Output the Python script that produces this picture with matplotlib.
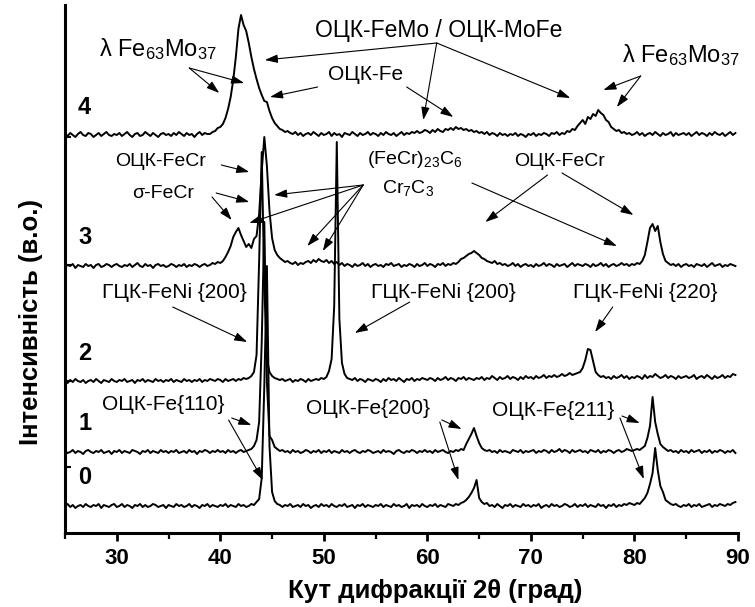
import numpy as np
import matplotlib.pyplot as plt

plt.rcParams['font.family'] = ['Liberation Sans', 'DejaVu Sans']
plt.rcParams['mathtext.fontset'] = 'custom'
plt.rcParams['mathtext.rm'] = 'Liberation Sans'
plt.rcParams['mathtext.it'] = 'Liberation Sans:italic'

# 2theta grid of the scans (step 0.25 deg)
two_theta = np.arange(260) * 0.25 + 25.0

# intensities (a.u.) of each pattern above its own baseline
trace0 = [0, 2, -1, 1, -2, 0, 1, -1, 2, 0, -1, 1, 0, 2, -2, 1, 0, -1, 1, 2,
          -1, 0, 2, -1, 1, 0, -2, 1, 0, 2, -1, 1, -1, 0, 2, 1, -1, 0, 1, -2,
          1, 0, -1, 2, 0, 1, -1, 0, 2, -1, 1, 0, -2, 1, 0, 2, -1, 1, 0, -1,
          1, 0, 2, -1, 1, 0, -1, 2, 0, 1, -1, 0, 2, 1, 4, 7, 28, 120, 240, 60,
          14, 5, 2, 1, -1, 1, 0, 2, -1, 0, 1, -1, 2, 0, 1, -2, 0, 1, -1, 2,
          0, 1, -1, 2, 0, -1, 1, 0, 2, -1, 0, 1, -2, 1, 0, 2, -1, 1, 0, -1,
          1, 0, 2, -1, 1, 0, -1, 2, 0, 1, -1, 0, 2, -2, 1, 0, 1, -1, 2, 0,
          -1, 1, 0, 2, -1, 1, 0, -1, 2, 1, 0, 2, 1, 3, 4, 6, 9, 13, 18, 26,
          8, 4, 2, 3, 0, 1, -1, 2, 0, -2, 1, 0, 2, -1, 1, 0, -1, 2, 0, 1,
          -1, 1, 0, 2, -2, 0, 1, -1, 2, 0, 1, -1, 0, 2, 1, -1, 0, 2, -1, 1,
          0, 2, -1, 1, 0, -1, 2, 0, 1, -2, 1, 0, 2, -1, 1, 0, 2, 1, 3, 2,
          1, 3, 2, 5, 8, 13, 22, 33, 58, 36, 20, 14, 6, 4, 2, 1, 2, 0, -1, 1,
          0, 2, -1, 1, 0, 2, -1, 0, 1, 2, -1, 1, 0, 2, 1, 0, 2, 1, 3, 4]
trace1 = [1, -1, 0, 2, -1, 1, 0, -2, 1, 2, 0, -1, 1, 0, 2, -1, 0, 1, -2, 1,
          0, 2, -1, 1, 0, -1, 2, 1, 0, -2, 1, 0, 2, -1, 1, 0, -1, 2, 0, 1,
          -1, 1, 0, 2, -1, 0, 1, -1, 2, 0, 1, -2, 1, 0, 2, 1, -1, 1, 0, 2,
          0, 1, -1, 2, 0, 1, -1, 1, 2, 0, 1, 2, 3, 6, 12, 30, 110, 230, 70, 16,
          12, 5, 3, 1, 2, 0, 1, -1, 2, 0, 1, -1, 0, 2, 1, -1, 1, 0, 2, -1,
          1, 0, 2, -1, 1, 0, -1, 2, 0, 1, -1, 1, 2, 0, -1, 1, 0, 2, 1, -1,
          0, 1, -1, 2, 0, 1, 0, -2, 1, 2, 0, -1, 1, 0, 2, 1, -1, 1, 0, 2,
          0, 1, -1, 2, 0, 1, 2, 0, -1, 1, 0, 2, 1, 3, 2, 8, 13, 18, 24, 16,
          9, 4, 2, 1, 2, 0, 1, -1, 2, 0, 1, 0, -1, 2, 1, 0, 2, -1, 1, 0,
          1, 2, -1, 1, 0, 2, 1, -1, 2, 0, 1, 3, 0, 2, 1, -1, 2, 0, 1, 2,
          0, 1, -1, 2, 1, 0, 2, -1, 1, 0, 2, 1, -1, 1, 2, 0, 1, 3, 2, 1,
          2, 3, 2, 4, 6, 14, 26, 55, 30, 18, 8, 5, 3, 1, 2, 0, 1, -1, 2, 0,
          1, -1, 2, 0, 1, 2, -1, 1, 0, 2, -1, 1, 0, 2, 1, -1, 1, 0, 2, -1]
trace2 = [0, -2, 1, -1, 2, 0, -1, 1, -2, 0, 1, -1, 2, 0, -2, 1, 0, -1, 2, 0,
          -1, 1, 0, 2, -1, 0, 1, -2, 1, 0, 2, -1, 1, 0, -1, 2, 0, 1, -1, 1,
          0, 2, -1, 1, 0, -1, 2, 0, 1, -1, 1, 0, 2, -1, 1, 0, 2, 1, 0, 2,
          1, -1, 2, 0, 1, 2, 0, 2, 1, 3, 2, 3, 5, 9, 26, 120, 229, 95, 22, 9,
          5, 3, 2, 1, 2, 0, 1, 2, -1, 1, 0, 2, 1, -1, 2, 0, 1, 2, 1, 3,
          2, 4, 10, 22, 75, 239, 62, 18, 7, 3, 2, 1, 3, 0, 2, 1, -1, 2, 1, 0,
          2, 1, -1, 2, 0, 3, 1, 2, 0, 3, 1, -1, 2, 1, 3, 0, 2, 1, 3, 2,
          1, 3, 2, 0, 3, 1, 2, 4, 1, 3, 2, 0, 3, 2, 4, 1, 3, 2, 1, 3,
          2, 4, 1, 3, 2, 5, 3, 1, 4, 2, 3, 5, 2, 4, 3, 1, 4, 2, 5, 3,
          4, 2, 5, 3, 4, 6, 3, 5, 4, 6, 4, 5, 7, 5, 6, 8, 6, 7, 8, 9,
          13, 21, 32, 31, 20, 9, 6, 4, 5, 3, 4, 2, 5, 3, 4, 6, 3, 5, 2, 4,
          3, 5, 4, 2, 6, 3, 5, 4, 7, 5, 3, 4, 6, 3, 5, 4, 2, 5, 3, 4,
          5, 3, 4, 6, 2, 4, 5, 3, 6, 4, 2, 5, 3, 4, 6, 3, 5, 4, 7, 6]
trace3 = [-1, 1, 0, 2, -2, 1, 0, -1, 2, 0, 1, -2, 1, 2, -1, 0, 2, 1, -1, 1,
          2, 0, -1, 1, 0, 2, -1, 1, 3, 0, -1, 2, 0, 1, -2, 1, 2, 0, 1, -1,
          0, 2, 1, -1, 1, 0, 2, -1, 1, 0, 2, 1, -1, 1, 2, 0, 1, 3, 2, 4,
          3, 5, 9, 14, 20, 29, 34, 38, 31, 25, 19, 22, 18, 27, 30, 52, 95, 129, 100, 55,
          28, 16, 11, 8, 6, 4, 5, 3, 2, 4, 1, 3, 2, 4, 5, 3, 6, 4, 7, 5,
          4, 6, 3, 5, 2, 4, 1, 3, 0, 2, 1, -1, 2, 0, 1, 3, 0, 2, -1, 1,
          2, 0, 1, -1, 2, 1, 3, 0, 1, 2, -1, 1, 0, 2, 1, -1, 2, 0, 1, 3,
          0, 2, 1, -1, 2, 1, 3, 0, 2, 1, 3, 2, 4, 7, 8, 10, 12, 13, 15, 13,
          11, 8, 7, 5, 4, 3, 5, 2, 3, 1, 2, 0, 1, 3, 0, 2, -1, 1, 2, 0,
          1, -1, 2, 0, 1, 3, 0, 2, 1, -1, 2, 0, 1, 2, -1, 1, 3, 0, 2, 1,
          0, 2, 1, -1, 2, 0, 1, 3, 0, 2, -1, 1, 2, 0, 1, 3, 1, 2, 0, 2,
          1, 3, 2, 5, 11, 24, 38, 42, 35, 40, 24, 12, 5, 3, 1, 2, 0, 2, -1, 1,
          2, 0, 1, -1, 2, 1, 0, 2, -1, 1, 3, 0, 1, 2, -1, 1, 0, 2, 1, 0]
trace4 = [1, -1, 2, 0, -2, 1, 3, 0, -1, 2, 1, -2, 0, 2, -1, 1, 3, 0, -1, 1,
          0, 2, -1, 1, 3, 0, -2, 1, 2, -1, 0, 3, 1, -1, 2, 0, -2, 1, 2, 0,
          1, -1, 2, 0, 3, 1, -1, 2, 0, 1, -2, 1, 3, 0, 2, 1, 1, 3, 4, 7,
          8, 11, 17, 26, 38, 55, 78, 106, 120, 110, 104, 92, 78, 66, 56, 47, 40, 34, 33, 24,
          17, 12, 9, 6, 5, 3, 4, 2, 1, 3, 0, 2, -1, 1, 2, 0, 3, 1, -1, 2,
          0, 1, 3, -1, 2, 0, 1, -2, 2, 1, 0, 3, 1, -1, 2, 0, 1, 3, 0, 2,
          1, -1, 2, 0, 3, 1, 0, 2, -1, 1, 3, 0, 2, 1, 3, 2, 4, 2, 3, 5,
          4, 2, 5, 3, 6, 4, 3, 6, 5, 7, 5, 8, 6, 7, 5, 6, 4, 5, 3, 4,
          2, 3, 1, 3, 0, 2, 1, -1, 2, 0, 1, -1, 1, 0, 2, -1, 1, 0, -2, 1,
          0, 2, -1, 1, 0, 2, 1, -1, 2, 1, 3, 0, 2, 1, 4, 3, 6, 5, 9, 12,
          15, 11, 18, 16, 21, 19, 25, 22, 20, 15, 13, 8, 6, 4, 5, 2, 3, 1, 2, 0,
          1, 3, 0, 2, -1, 1, 2, 0, 3, 1, -1, 2, 0, 1, 3, -1, 2, 0, 1, 2,
          0, 2, -1, 1, 3, 0, 2, 1, -1, 2, 0, 3, 1, 0, 2, -1, 1, 3, 0, 2]

traces = [trace0, trace1, trace2, trace3, trace4]
sample_names = ['0', '1', '2', '3', '4']
baselines = [27, 81, 152, 267, 398]

fig = plt.figure(figsize=(7.55, 6.07), dpi=100)
ax = fig.add_axes([65 / 755, 74 / 607, 673 / 755, 528 / 607])

for tr, base, name in zip(traces, baselines, sample_names):
    ax.plot(two_theta, np.array(tr) + base, color='black', lw=1.4)
    ax.text(26.9, base + 28, name, fontsize=17, fontweight='bold',
            ha='center', va='center')

ax.set_xlim(25, 90)
ax.set_ylim(0, 528)
ax.set_xticks(np.arange(30, 91, 10))
ax.set_xticks(np.arange(25, 91, 5), minor=True)
ax.set_yticks([66, 152, 268, 396])
ax.set_yticklabels([])
for s in ['top', 'right']:
    ax.spines[s].set_visible(False)
for s in ['left', 'bottom']:
    ax.spines[s].set_linewidth(2.2)
ax.tick_params(axis='x', which='major', direction='out', length=6, width=2,
               labelsize=16, pad=5)
ax.tick_params(axis='x', which='minor', direction='out', length=4, width=1.6)
ax.tick_params(axis='y', direction='in', length=4, width=1.5)
for lab in ax.get_xticklabels():
    lab.set_fontweight('bold')

ax.set_xlabel('Кут дифракції 2θ (град)', fontsize=18.5, fontweight='bold')
ax.xaxis.set_label_coords(0.55, -0.088)
ax.set_ylabel('Інтенсивність (в.о.)', fontsize=18.5, fontweight='bold')
ax.yaxis.set_label_coords(-0.033, 0.40)

arrow = dict(arrowstyle='-|>,head_length=0.55,head_width=0.18',
             mutation_scale=14, color='black', lw=0.8, shrinkA=0, shrinkB=0)


def label(txt, pos, size, heads):
    ax.text(pos[0], pos[1], txt, fontsize=size, ha='center', va='center')
    for start, end in heads:
        ax.annotate('', xy=end, xytext=start, arrowprops=arrow)


label('λ Fe$_{63}$Mo$_{37}$', (34.0, 484), 17,
      [((37.0, 465), (39.9, 440)), ((37.0, 465), (42.3, 450))])
label('ОЦК-FeMo / ОЦК-MoFe', (61.1, 502), 16.5,
      [((60.9, 490), (44.3, 473)), ((60.9, 490), (59.6, 413)),
       ((60.9, 490), (73.8, 435))])
label('ОЦК-Fe', (54.0, 459), 15,
      [((49.4, 446), (44.8, 436)), ((58.0, 446), (62.5, 416))])
label('λ Fe$_{63}$Mo$_{37}$', (84.5, 478), 17,
      [((80.6, 457), (77.0, 443)), ((80.6, 457), (78.3, 426))])
label('ОЦК-FeCr', (34.2, 371), 14,
      [((40.1, 368), (42.8, 361))])
label('σ-FeCr', (34.5, 340), 14,
      [((39.6, 340), (42.8, 331)), ((39.2, 336), (41.1, 313))])
label('(FeCr)$_{23}$C$_{6}$', (58.8, 373), 14,
      [((64.3, 350), (78.3, 287))])
label('Cr$_{7}$C$_{3}$', (58.1, 345), 14,
      [((53.8, 348), (45.2, 338)), ((53.8, 348), (42.8, 310)),
       ((53.8, 348), (48.4, 287)), ((53.8, 348), (49.9, 282))])
label('ОЦК-FeCr', (72.8, 371), 14,
      [((71.6, 358), (65.6, 311)), ((73.0, 360), (79.9, 318))])
label('ГЦК-FeNi {200}', (35.6, 240), 15,
      [((35.4, 226), (42.6, 191))])
label('ГЦК-FeNi {200}', (61.5, 240), 15,
      [((58.3, 231), (53.0, 200))])
label('ГЦК-FeNi {220}', (81.0, 241), 15,
      [((77.9, 226), (76.2, 201))])
label('ОЦК-Fe{110}', (34.5, 128), 15,
      [((41.1, 115), (43.0, 108)), ((40.8, 113), (44.1, 53))])
label('ОЦК-Fe{200}', (54.3, 124), 15,
      [((61.4, 113), (63.3, 104)), ((61.2, 111), (63.0, 53))])
label('ОЦК-Fe{211}', (72.1, 123), 15,
      [((78.8, 117), (80.5, 110)), ((78.6, 115), (80.9, 54))])

plt.savefig('out.png', dpi=100)
